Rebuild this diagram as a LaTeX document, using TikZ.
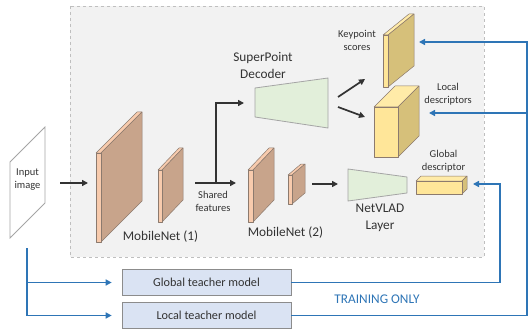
\documentclass[tikz,border=0pt]{standalone}
\usepackage{fontspec}
\setmainfont{Carlito}
\usetikzlibrary{arrows.meta}

\definecolor{panelfill}{HTML}{F2F2F2}
\definecolor{panelline}{HTML}{BFBFBF}
\definecolor{peach}{HTML}{F8CBAD}
\definecolor{brownside}{HTML}{C8A48B}
\definecolor{slabedge}{HTML}{8C7A6E}
\definecolor{lightyellow}{HTML}{FFE699}
\definecolor{tanside}{HTML}{D6C07A}
\definecolor{paleyellow}{HTML}{FFEBA8}
\definecolor{decfill}{HTML}{E2EFDA}
\definecolor{decline}{HTML}{A5A5A5}
\definecolor{trainblue}{HTML}{2E75B6}
\definecolor{teacherfill}{HTML}{DAE3F3}
\definecolor{teacherline}{HTML}{8C8C8C}
\definecolor{labelgray}{HTML}{333333}
\definecolor{arrowgray}{HTML}{333333}

% slab / box: x0, y0 (front top-left), width, height, depth-x, depth-y, front, side, top
\newcommand\drawslab[9]{%
  \filldraw[slabline, fill=#9] (#1,#2) -- ++(#5,-#6) -- ++(#3,0) -- ++(-#5,#6) -- cycle;
  \filldraw[slabline, fill=#8] (#1+#3,#2) -- ++(#5,-#6) -- ++(0,#4) -- ++(-#5,#6) -- cycle;
  \filldraw[slabline, fill=#7] (#1,#2) rectangle ++(#3,#4);
}

\begin{document}
\begin{tikzpicture}[x=1pt,y=-1pt,
  slabline/.style={draw=slabedge, line width=0.5pt, line join=round},
  smalltext/.style={text=labelgray, align=center, font=\fontsize{10.5}{13}\selectfont, inner sep=0pt},
  bigtext/.style={text=labelgray, align=center, font=\fontsize{13.3}{17}\selectfont, inner sep=0pt},
  darrow/.style={draw=arrowgray, line width=1.7pt, -{Triangle[length=6pt,width=6pt]}},
  barrow/.style={draw=trainblue, line width=1.9pt, -{Triangle[length=6pt,width=6pt]}},
  teacher/.style={draw=teacherline, fill=teacherfill, line width=0.7pt, minimum width=169pt,
    minimum height=26pt, inner sep=0pt, text=labelgray, font=\fontsize{12.2}{14}\selectfont},
  trap/.style={draw=decline, fill=decfill, line width=0.8pt, line join=round}
]
\useasboundingbox (0,0) rectangle (529,331);

% inference panel
\filldraw[fill=panelfill, draw=panelline, dashed, line width=0.6pt] (70,6) rectangle (484,257);

% input image
\filldraw[fill=white, draw=decline, line width=0.8pt] (10,162) -- (45,127) -- (45,203) -- (10,238) -- cycle;
\node[smalltext] (input) at (27.5,180) {Input\\image};

% MobileNet (1)
\drawslab{96}{153}{5}{89}{41}{41}{peach}{brownside}{peach}
\drawslab{158}{170}{4}{52}{21}{22}{peach}{brownside}{peach}
\node[bigtext] (mn1) at (160.5,237) {MobileNet (1)};

% MobileNet (2)
\drawslab{248}{170}{5}{52}{21}{22}{peach}{brownside}{peach}
\drawslab{288}{175}{4}{29}{13}{11}{peach}{brownside}{peach}
\node[bigtext] (mn2) at (285.5,233) {MobileNet (2)};

% SuperPoint decoder
\filldraw[trap] (255,88) -- (328,78) -- (328,128) -- (255,117) -- cycle;
\node[bigtext] (dec) at (263,65.5) {SuperPoint\\Decoder};

% NetVLAD layer
\filldraw[trap] (348,169) -- (407,177) -- (407,193) -- (348,201) -- cycle;
\node[bigtext] (vlad) at (380,218) {NetVLAD\\Layer};

% outputs
\drawslab{383}{35}{5}{52}{26}{21}{lightyellow}{tanside}{paleyellow}
\node[smalltext] (kp) at (357,40) {Keypoint\\scores};
\drawslab{374}{107}{24}{50}{21}{21}{lightyellow}{tanside}{paleyellow}
\node[smalltext] (ld) at (448,94) {Local\\descriptors};
\drawslab{416}{181}{46}{13}{5}{5}{lightyellow}{tanside}{paleyellow}
\node[smalltext] (gd) at (443.5,161.5) {Global\\descriptor};

% shared features
\node[smalltext] (sf) at (213,201.5) {Shared\\features};

% dark data-flow arrows
\coordinate (inR) at (60,183);
\coordinate (mn1L) at (88,183);
\coordinate (sfA) at (195,183);
\coordinate (sfB) at (236,183);
\coordinate (sfJ) at (216,183);
\coordinate (decL) at (244,103);
\coordinate (decA) at (338,97);
\coordinate (kpA) at (365,79);
\coordinate (decB) at (338,107);
\coordinate (ldA) at (365,117);
\coordinate (mn2R) at (312,184);
\coordinate (vladL) at (338,184);
\draw[darrow] (inR) -- (mn1L);
\draw[darrow] (sfA) -- (sfB);
\draw[darrow] (sfJ) |- (decL);
\draw[darrow] (decA) -- (kpA);
\draw[darrow] (decB) -- (ldA);
\draw[darrow] (mn2R) -- (vladL);

% teacher models (training only)
\node[teacher] (gt) at (206.5,282.5) {Global teacher model};
\node[teacher] (lt) at (206.5,315.5) {Local teacher model};
\node[text=trainblue, font=\fontsize{13.3}{16}\selectfont, inner sep=0pt] (train) at (377,299) {TRAINING ONLY};

\coordinate (imgB) at (27,248);
\draw[barrow, shorten >=10pt] (imgB) |- (gt.west);
\draw[barrow, shorten >=10pt] (imgB) |- (lt.west);

\coordinate (gcorner) at (500,282.5);
\coordinate (gdR) at (473,184);
\draw[barrow] (gt.east) -- (gcorner) |- (gdR);

\coordinate (lcorner) at (527,315.5);
\coordinate (kpR) at (419,42);
\coordinate (ldR) at (429,113);
\draw[barrow] (lt.east) -- (lcorner) |- (kpR);
\draw[barrow] (lcorner |- ldR) -- (ldR);
\end{tikzpicture}
\end{document}
